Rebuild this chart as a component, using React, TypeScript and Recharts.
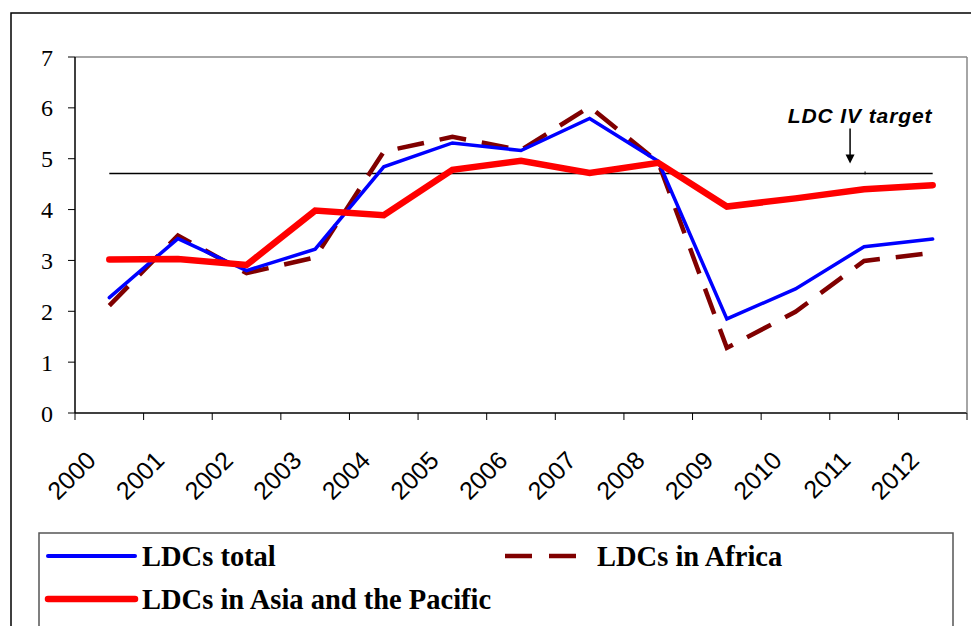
import React from 'react';
import { LineChart, Line, XAxis, YAxis, ReferenceLine, ReferenceDot } from 'recharts';

const years = ['2000', '2001', '2002', '2003', '2004', '2005', '2006', '2007', '2008', '2009', '2010', '2011', '2012'];
const ldcTotal = [2.27, 3.43, 2.8, 3.22, 4.84, 5.31, 5.16, 5.79, 4.95, 1.85, 2.44, 3.27, 3.42];
const ldcAfrica = [2.11, 3.49, 2.75, 3.06, 5.14, 5.43, 5.17, 6.02, 4.93, 1.28, 1.99, 2.99, 3.15];
const ldcAsia = [3.02, 3.03, 2.91, 3.98, 3.89, 4.78, 4.96, 4.72, 4.92, 4.06, 4.22, 4.4, 4.48];
const yTicks = [0, 1, 2, 3, 4, 5, 6, 7];
const targetValue = 4.71;
const targetYear = '2011';
const targetLabel = 'LDC IV target';
const seriesNames = ['LDCs total', 'LDCs in Africa', 'LDCs in Asia and the Pacific'];

const data = years.map((year, i) => ({
  year,
  total: ldcTotal[i],
  africa: ldcAfrica[i],
  asia: ldcAsia[i],
}));

const XTick = (props: any) => {
  const { x, y, payload, index } = props;
  const half = payload && payload.offset ? payload.offset : 0;
  const tx = x - 12;
  const ty = y + 49;
  return (
    <g>
      <line x1={x - half} x2={x - half} y1={y} y2={y + 7} stroke="#000" strokeWidth={1} />
      {index === years.length - 1 && (
        <line x1={x + half} x2={x + half} y1={y} y2={y + 7} stroke="#000" strokeWidth={1} />
      )}
      <text
        x={tx}
        y={ty}
        textAnchor="end"
        transform={`rotate(-45 ${tx} ${ty})`}
        fontFamily="'Liberation Sans', Arial, sans-serif"
        fontSize={25}
        fill="#000"
      >
        {payload.value}
      </text>
    </g>
  );
};

const TargetMarker = (props: any) => {
  const { cx, cy } = props;
  const ax = cx - 14;
  return (
    <g>
      <text
        x={cx - 4}
        y={cy - 50}
        textAnchor="middle"
        fontFamily="'Liberation Sans', Arial, sans-serif"
        fontSize={21}
        fontWeight="bold"
        fontStyle="italic"
        letterSpacing={0.9}
        fill="#000"
      >
        {targetLabel}
      </text>
      <line x1={ax} x2={ax} y1={cy - 45} y2={cy - 16} stroke="#000" strokeWidth={1.5} />
      <path d={`M ${ax - 4.5} ${cy - 19} L ${ax + 4.5} ${cy - 19} L ${ax} ${cy - 10} Z`} fill="#000" />
      <line x1={cx + 1} x2={cx + 1} y1={cy - 2} y2={cy + 1} stroke="#000" strokeWidth={1} />
    </g>
  );
};

export default function App() {
  return (
    <div style={{ position: 'absolute', left: 0, top: 0, width: 971, height: 626, background: '#fff', overflow: 'hidden' }}>
      <LineChart
        width={971}
        height={626}
        data={data}
        margin={{ top: 56, right: 3, bottom: 153, left: 0 }}
        style={{ position: 'absolute', left: 0, top: 0 }}
      >
        <XAxis
          dataKey="year"
          scale="band"
          interval={0}
          tickSize={0}
          tickMargin={0}
          tickLine={false}
          axisLine={{ stroke: '#000', strokeWidth: 1.5 }}
          tick={<XTick />}
          height={60}
        />
        <XAxis xAxisId="top" orientation="top" dataKey="year" scale="band" tick={false} tickLine={false} height={1} axisLine={{ stroke: '#888', strokeWidth: 1.5 }} />
        <YAxis
          domain={[0, 7]}
          ticks={yTicks}
          interval={0}
          width={75}
          tickSize={7}
          tickMargin={15}
          axisLine={{ stroke: '#000', strokeWidth: 1.5 }}
          tickLine={{ stroke: '#000', strokeWidth: 1 }}
          tick={{ fill: '#000', fontSize: 24, fontFamily: "'Liberation Serif', 'Times New Roman', serif" }}
        />
        <YAxis yAxisId="right" orientation="right" domain={[0, 7]} width={1} tick={false} tickLine={false} axisLine={{ stroke: '#888', strokeWidth: 1.5 }} />
        <ReferenceLine
          segment={[{ x: years[0], y: targetValue }, { x: years[years.length - 1], y: targetValue }]}
          stroke="#000"
          strokeWidth={1.5}
        />
        <ReferenceDot x={targetYear} y={targetValue} r={0} shape={<TargetMarker />} />
        <Line
          dataKey="africa"
          name={seriesNames[1]}
          stroke="#800000"
          strokeWidth={4.5}
          strokeDasharray="27 16"
          strokeLinejoin="miter"
          dot={false}
          activeDot={false}
          isAnimationActive={false}
        />
        <Line
          dataKey="total"
          name={seriesNames[0]}
          stroke="#0000FF"
          strokeWidth={3.5}
          strokeLinecap="round"
          dot={false}
          activeDot={false}
          isAnimationActive={false}
        />
        <Line
          dataKey="asia"
          name={seriesNames[2]}
          stroke="#FF0000"
          strokeWidth={6.5}
          strokeLinecap="round"
          dot={false}
          activeDot={false}
          isAnimationActive={false}
        />
      </LineChart>
      <svg width={971} height={626} style={{ position: 'absolute', left: 0, top: 0, pointerEvents: 'none' }}>
        <rect x={11} y={13} width={1000} height={700} fill="none" stroke="#000" strokeWidth={1.5} />
        <rect x={39} y={533} width={914} height={100} fill="none" stroke="#555" strokeWidth={1.5} />
        <line x1={48} x2={135} y1={556} y2={556} stroke="#0000FF" strokeWidth={4} strokeLinecap="round" />
        <text x={142} y={566} fontFamily="'Liberation Serif', 'Times New Roman', serif" fontWeight="bold" fontSize={28.5} fill="#000">
          {seriesNames[0]}
        </text>
        <line x1={505} x2={577} y1={556} y2={556} stroke="#800000" strokeWidth={4.5} strokeDasharray="27 17" />
        <text x={597} y={566} fontFamily="'Liberation Serif', 'Times New Roman', serif" fontWeight="bold" fontSize={28.5} fill="#000">
          {seriesNames[1]}
        </text>
        <line x1={48} x2={135} y1={599} y2={599} stroke="#FF0000" strokeWidth={6.5} strokeLinecap="round" />
        <text x={142} y={609} fontFamily="'Liberation Serif', 'Times New Roman', serif" fontWeight="bold" fontSize={28.5} fill="#000">
          {seriesNames[2]}
        </text>
      </svg>
    </div>
  );
}
